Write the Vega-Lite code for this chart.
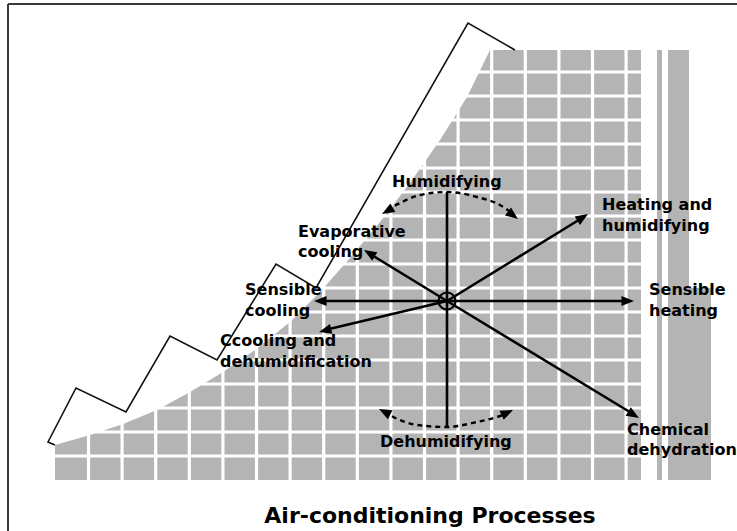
{
  "$schema": "https://vega.github.io/schema/vega-lite/v6.json",
  "width": 737,
  "height": 531,
  "autosize": {"type": "none"},
  "padding": 0,
  "background": "white",
  "config": {"view": {"stroke": null}},
  "datasets": {
    "curve": [
      {"x": 55, "y": 445}, {"x": 90, "y": 435}, {"x": 123, "y": 424}, {"x": 157, "y": 410},
      {"x": 190, "y": 392}, {"x": 223, "y": 372}, {"x": 255, "y": 350}, {"x": 290, "y": 322},
      {"x": 320, "y": 292}, {"x": 350, "y": 258}, {"x": 380, "y": 222}, {"x": 410, "y": 183},
      {"x": 440, "y": 140}, {"x": 467, "y": 97}, {"x": 490, "y": 50}, {"x": 641, "y": 50}
    ],
    "vgrid": [
      {"x": 88.5, "y": 48, "y2": 482}, {"x": 122.1, "y": 48, "y2": 482}, {"x": 155.7, "y": 48, "y2": 482},
      {"x": 189.3, "y": 48, "y2": 482}, {"x": 222.9, "y": 48, "y2": 482}, {"x": 256.5, "y": 48, "y2": 482},
      {"x": 290.1, "y": 48, "y2": 482}, {"x": 323.7, "y": 48, "y2": 482}, {"x": 357.3, "y": 48, "y2": 482},
      {"x": 390.9, "y": 48, "y2": 482}, {"x": 424.5, "y": 48, "y2": 482}, {"x": 458.1, "y": 48, "y2": 482},
      {"x": 491.7, "y": 48, "y2": 482}, {"x": 525.3, "y": 48, "y2": 482}, {"x": 558.9, "y": 48, "y2": 482},
      {"x": 592.5, "y": 48, "y2": 482}, {"x": 626.1, "y": 48, "y2": 482}
    ],
    "hgrid": [
      {"y": 72, "x": 53, "x2": 643}, {"y": 96, "x": 53, "x2": 643}, {"y": 120, "x": 53, "x2": 643},
      {"y": 144, "x": 53, "x2": 643}, {"y": 168, "x": 53, "x2": 643}, {"y": 192, "x": 53, "x2": 643},
      {"y": 216, "x": 53, "x2": 643}, {"y": 240, "x": 53, "x2": 643}, {"y": 264, "x": 53, "x2": 643},
      {"y": 288, "x": 53, "x2": 643}, {"y": 312, "x": 53, "x2": 643}, {"y": 336, "x": 53, "x2": 643},
      {"y": 360, "x": 53, "x2": 643}, {"y": 384, "x": 53, "x2": 643}, {"y": 408, "x": 53, "x2": 643},
      {"y": 432, "x": 53, "x2": 643}, {"y": 456, "x": 53, "x2": 643}
    ],
    "strips": [
      {"x": 657, "x2": 662, "y": 50, "y2": 480},
      {"x": 668, "x2": 689, "y": 50, "y2": 480},
      {"x": 688, "x2": 711, "y": 288, "y2": 480}
    ],
    "zigzag": [
      {"i": 0, "x": 55, "y": 445}, {"i": 1, "x": 48, "y": 442}, {"i": 2, "x": 76, "y": 388},
      {"i": 3, "x": 126, "y": 412}, {"i": 4, "x": 170, "y": 336}, {"i": 5, "x": 217, "y": 360},
      {"i": 6, "x": 276, "y": 264}, {"i": 7, "x": 316, "y": 288}, {"i": 8, "x": 468, "y": 23},
      {"i": 9, "x": 515, "y": 50}
    ],
    "rays": [
      {"x": 447, "y": 192, "x2": 447, "y2": 427},
      {"x": 447, "y": 301, "x2": 320, "y2": 301},
      {"x": 447, "y": 301, "x2": 628, "y2": 301},
      {"x": 447, "y": 301, "x2": 325, "y2": 330},
      {"x": 447, "y": 301, "x2": 370, "y2": 254},
      {"x": 447, "y": 301, "x2": 582, "y2": 218},
      {"x": 447, "y": 301, "x2": 633, "y2": 414}
    ],
    "arcs": [
      {"arc": "top", "x": 387, "y": 210}, {"arc": "top", "x": 400, "y": 203}, {"arc": "top", "x": 420, "y": 195},
      {"arc": "top", "x": 447, "y": 192}, {"arc": "top", "x": 477, "y": 197}, {"arc": "top", "x": 500, "y": 205},
      {"arc": "top", "x": 513, "y": 214},
      {"arc": "bottom", "x": 384, "y": 412}, {"arc": "bottom", "x": 400, "y": 420}, {"arc": "bottom", "x": 417, "y": 425},
      {"arc": "bottom", "x": 447, "y": 427}, {"arc": "bottom", "x": 477, "y": 422}, {"arc": "bottom", "x": 500, "y": 416},
      {"arc": "bottom", "x": 508, "y": 413}
    ],
    "heads": [
      {"x": 314, "y": 301, "dir": 270},
      {"x": 634, "y": 301, "dir": 90},
      {"x": 319, "y": 332, "dir": 256},
      {"x": 364, "y": 250, "dir": 301},
      {"x": 588, "y": 214, "dir": 58},
      {"x": 639, "y": 418, "dir": 121},
      {"x": 382, "y": 214, "dir": 240},
      {"x": 518, "y": 219, "dir": 127},
      {"x": 379, "y": 409, "dir": 297},
      {"x": 513, "y": 410, "dir": 65}
    ],
    "labels": [
      {"t": "Humidifying", "x": 392, "y": 187},
      {"t": "Evaporative", "x": 298, "y": 237},
      {"t": "cooling", "x": 298, "y": 257},
      {"t": "Sensible", "x": 245, "y": 295},
      {"t": "cooling", "x": 245, "y": 316},
      {"t": "Ccooling and", "x": 220, "y": 346},
      {"t": "dehumidification", "x": 220, "y": 367},
      {"t": "Heating and", "x": 602, "y": 210},
      {"t": "humidifying", "x": 602, "y": 231},
      {"t": "Sensible", "x": 649, "y": 295},
      {"t": "heating", "x": 649, "y": 316},
      {"t": "Chemical", "x": 627, "y": 435},
      {"t": "dehydration", "x": 627, "y": 455},
      {"t": "Dehumidifying", "x": 380, "y": 447}
    ],
    "title": [{"t": "Air-conditioning Processes", "x": 430, "y": 523}],
    "center": [{"x": 447, "y": 301}],
    "frame": [
      {"x": 8, "y": 4, "x2": 737, "y2": 4},
      {"x": 8, "y": 4, "x2": 8, "y2": 531}
    ]
  },
  "encoding": {
    "x": {"field": "x", "type": "quantitative", "scale": {"domain": [0, 737], "nice": false, "zero": false}, "axis": null},
    "y": {"field": "y", "type": "quantitative", "scale": {"domain": [0, 531], "reverse": true, "nice": false, "zero": false}, "axis": null}
  },
  "layer": [
    {
      "data": {"name": "curve"},
      "mark": {"type": "area", "color": "#b4b4b4", "opacity": 1},
      "encoding": {"y2": {"datum": 480}}
    },
    {
      "data": {"name": "strips"},
      "mark": {"type": "rect", "color": "#b4b4b4"},
      "encoding": {"x2": {"field": "x2"}, "y2": {"field": "y2"}}
    },
    {
      "data": {"name": "vgrid"},
      "mark": {"type": "rule", "color": "white", "strokeWidth": 3.2},
      "encoding": {"y2": {"field": "y2"}}
    },
    {
      "data": {"name": "hgrid"},
      "mark": {"type": "rule", "color": "white", "strokeWidth": 3.2},
      "encoding": {"x2": {"field": "x2"}}
    },
    {
      "data": {"name": "zigzag"},
      "mark": {"type": "line", "color": "#111", "strokeWidth": 1.6},
      "encoding": {"order": {"field": "i", "type": "quantitative"}}
    },
    {
      "data": {"name": "rays"},
      "mark": {"type": "rule", "color": "#000", "strokeWidth": 2.6},
      "encoding": {"x2": {"field": "x2"}, "y2": {"field": "y2"}}
    },
    {
      "data": {"name": "arcs"},
      "mark": {"type": "line", "color": "#000", "strokeWidth": 2.4, "strokeDash": [5, 4], "interpolate": "monotone"},
      "encoding": {"detail": {"field": "arc"}}
    },
    {
      "data": {"name": "heads"},
      "mark": {"type": "point", "shape": "M0,0L-0.6,1.5L0.6,1.5Z", "size": 280, "filled": true, "opacity": 1, "color": "#000"},
      "encoding": {"angle": {"field": "dir", "type": "quantitative", "scale": null}}
    },
    {
      "data": {"name": "center"},
      "mark": {"type": "point", "shape": "circle", "size": 289, "filled": false, "opacity": 1, "color": "#000", "strokeWidth": 2.2}
    },
    {
      "data": {"name": "labels"},
      "mark": {"type": "text", "align": "left", "baseline": "alphabetic", "font": "DejaVu Sans", "fontWeight": "bold", "fontSize": 16, "color": "#000"},
      "encoding": {"text": {"field": "t"}}
    },
    {
      "data": {"name": "title"},
      "mark": {"type": "text", "align": "center", "baseline": "alphabetic", "font": "DejaVu Sans", "fontWeight": "bold", "fontSize": 22, "color": "#000"},
      "encoding": {"text": {"field": "t"}}
    },
    {
      "data": {"name": "frame"},
      "mark": {"type": "rule", "color": "#3a3a3a", "strokeWidth": 2},
      "encoding": {"x2": {"field": "x2"}, "y2": {"field": "y2"}}
    }
  ]
}
